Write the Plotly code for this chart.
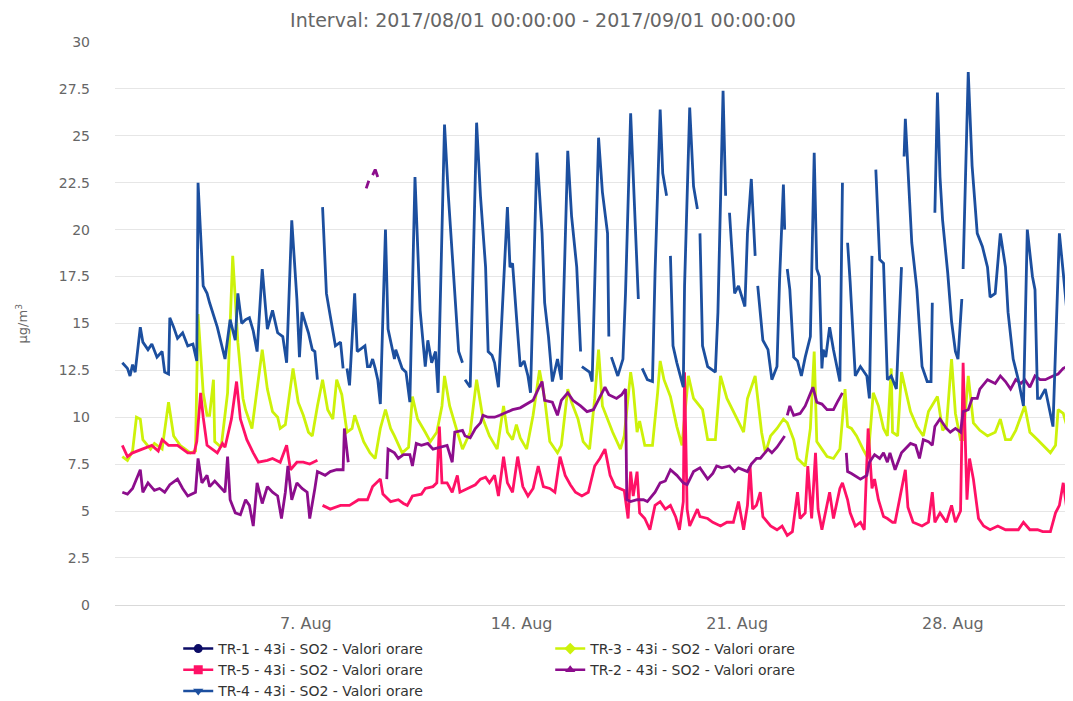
import pandas as pd
import plotly.graph_objects as go

# ==========================================
# DATI (ore dal 2017-08-01 00:00, valore µg/m³)
# ==========================================
T0 = pd.Timestamp("2017-08-01 00:00")

tr1_points = []  # nessun dato nel periodo

tr4_points = [
    (1, 12.9), (5, 12.6), (7, 12.2), (9, 12.8), (11, 12.4), (15, 14.8), (17, 14.0), (21, 13.6), (24, 13.9),
    (28, 13.2), (32, 13.5), (34, 12.4), (37, 12.3), (38, 15.3), (41, 14.8), (44, 14.2), (48, 14.5), (52, 13.8),
    (56, 13.9), (59, 13.0), (60, 22.5), (64, 17.0), (67, 16.6), (69, 16.1), (75, 14.8), (81, 13.1), (85, 15.2),
    (89, 14.1), (91, 16.6), (94, 15.0), (97, 15.2), (100, 15.3), (103, 14.6), (106, 13.5), (110, 17.9), (114, 14.7),
    (118, 15.7), (122, 14.5), (126, 14.3), (129, 12.9), (133, 20.5), (137, 16.3), (139, 13.2), (141, 15.6),
    (146, 14.5), (149, 13.6), (151, 13.5), (153, 12.0), (155, None), (157, 21.2), (160, 16.6), (163, 15.4),
    (167, 13.8), (171, 14.0), (173, 12.6), (175, None), (176, 12.6), (178, 11.7), (182, 16.6), (184, 13.5),
    (190, 13.8), (192, 12.7), (194, 12.7), (196, 13.1), (198, 12.6), (200, 12.0), (202, 10.7), (206, 20.0),
    (208, 14.7), (213, 13.1), (214, 13.6), (219, 12.6), (222, 12.4), (225, 10.8), (229, 22.8), (233, 15.7),
    (237, 12.7), (239, 14.1), (242, 12.9), (245, 13.5), (247, 11.3), (252, 25.6), (255, 21.8), (260, 16.3),
    (263, 13.5), (266, 12.9), (267, None), (268, 12.0), (272, 11.6), (277, 25.7), (280, 21.8), (284, 18.0),
    (286, 13.5), (289, 13.3), (291, 12.9), (294, 11.6), (301, 21.2), (303, 18.0), (305, 18.2), (308, 15.4),
    (311, 12.7), (314, 13.0), (317, 12.2), (319, 11.3), (324, 24.1), (328, 19.8), (329, 17.5), (330, 16.1),
    (333, 14.3), (336, 11.9), (340, 13.1), (343, 12.0), (348, 24.2), (351, 20.7), (355, 18.0), (358, 13.5),
    (358.5, None), (359, 12.7), (365, 12.4), (367, 11.9), (372, 24.9), (375, 22.0), (379, 19.8), (380, 14.3),
    (381, None), (382, 13.2), (387, 12.2), (391, 13.1), (393, 16.6), (397, 26.2), (400, 21.6), (403, 16.3),
    (404, None), (406, 12.6), (410, 12.0), (414, 11.9), (416, 17.7), (420, 26.4), (422, 23.0), (425, 21.8),
    (426, None), (428, 18.6), (430, 13.8), (433, 12.9), (435, 12.4), (438, 11.6), (439, 17.0), (443, 26.5),
    (446, 22.3), (449, 21.1), (450, None), (451, 19.8), (453, 13.8), (457, 12.7), (463, 12.4), (465, 15.6),
    (469, 27.4), (471, 21.8), (472, None), (474, 20.9), (476, 18.6), (478, 16.6), (481, 17.0), (484, 16.3),
    (486, 15.9), (488, 19.8), (491, 22.7), (494, 18.6), (495, None), (496, 17.0), (500, 14.1), (504, 13.6),
    (507, 12.0), (511, 12.7), (513, 17.3), (516, 22.4), (517, 20.0), (518, None), (519, 17.9), (521, 16.8),
    (524, 13.2), (527, 13.0), (530, 12.2), (533, 13.2), (537, 14.3), (540, 24.1), (542, 17.9), (544, 17.5),
    (546, 12.6), (547, 13.6), (549, 13.2), (552, 14.8), (555, 13.6), (560, 11.9), (562, 22.5), (564, None),
    (566, 19.3), (568, 17.2), (572, 12.2), (576, 12.7), (581, 12.2), (583, 11.0), (585, 18.6), (586, None),
    (588, 23.2), (591, 18.4), (594, 18.2), (597, 12.0), (600, 12.2), (604, 11.5), (608, 18.0), (609, None),
    (610, 23.9), (611, 25.9), (616, 19.3), (620, 16.8), (624, 12.7), (628, 11.9), (631, 11.9), (632, 16.1),
    (633, None), (634, 20.9), (636, 27.3), (638, 22.8), (640, 20.5), (644, 17.7), (647, 15.1), (650, 13.5),
    (652, 13.1), (655, 16.3), (655.5, None), (656, 17.9), (660, 28.4), (663, 23.4), (667, 19.8), (671, 19.1),
    (675, 18.0), (677, 16.4), (681, 16.6), (685, 19.8), (689, 18.0), (691, 15.6), (695, 13.1), (699, 12.0),
    (703, 10.6), (706, 20.0), (710, 17.5), (712, 16.8), (714, 11.0), (716, 11.0), (720, 11.5), (726, 9.5),
    (729, 15.9), (731, 19.8), (734, 17.7), (737, 15.5), (739, 11.1), (742, 10.6),
]

tr3_points = [
    (1, 7.9), (5, 7.7), (9, 8.2), (12, 10.0), (15, 9.9), (17, 8.8), (23, 8.3), (26, 8.6), (32, 8.3), (37, 10.8),
    (41, 9.0), (46, 8.5), (54, 8.1), (58, 8.2), (60, 15.5), (64, 11.3), (67, 10.1), (69, 10.1), (72, 12.0),
    (73, 8.7), (78, 8.4), (83, 11.3), (87, 18.6), (91, 14.0), (95, 11.0), (97, 10.4), (102, 9.4), (110, 13.6),
    (114, 11.5), (118, 10.3), (122, 10.0), (124, 9.4), (128, 9.6), (134, 12.6), (138, 10.8), (142, 10.1),
    (146, 9.2), (149, 9.0), (153, 10.6), (157, 12.0), (161, 10.4), (165, 9.9), (168, 12.0), (172, 11.2),
    (176, 9.2), (180, 9.4), (182, 10.1), (189, 8.7), (194, 8.1), (198, 7.8), (202, 9.4), (206, 10.4), (210, 9.4),
    (213, 9.0), (219, 8.1), (224, 8.4), (227, 11.1), (231, 9.9), (237, 9.2), (241, 8.7), (246, 9.2), (250, 10.6),
    (252, 12.2), (256, 10.6), (262, 9.2), (266, 8.3), (272, 9.2), (277, 12.0), (282, 9.9), (287, 9.0), (293, 8.3),
    (298, 10.6), (301, 9.2), (305, 8.8), (308, 9.6), (311, 8.9), (316, 8.3), (321, 10.1), (326, 12.5), (330, 11.0),
    (334, 8.7), (340, 8.1), (343, 8.5), (348, 11.5), (351, 10.8), (356, 9.9), (360, 8.7), (365, 8.3), (369, 11.0),
    (372, 13.6), (375, 10.6), (379, 9.9), (383, 9.2), (389, 8.3), (392, 9.0), (397, 12.4), (399, 11.5),
    (402, 9.2), (404, 9.8), (408, 8.5), (414, 8.5), (418, 11.3), (420, 13.0), (423, 12.0), (428, 11.1),
    (433, 9.5), (437, 8.5), (442, 12.2), (446, 11.0), (453, 10.4), (457, 8.8), (463, 8.8), (467, 12.2),
    (472, 11.0), (477, 10.3), (485, 9.2), (488, 11.0), (494, 12.2), (499, 9.2), (502, 8.1), (506, 9.0),
    (511, 9.4), (516, 9.9), (519, 9.7), (524, 8.8), (527, 7.8), (533, 7.4), (537, 9.4), (540, 13.5), (542, 8.7),
    (546, 8.3), (550, 7.9), (555, 7.8), (560, 8.3), (564, 11.5), (566, 9.5), (569, 9.4), (573, 9.0), (578, 8.3),
    (582, 7.8), (586, 11.3), (590, 10.6), (594, 9.4), (597, 9.0), (600, 12.6), (601, 9.2), (605, 9.0),
    (608, 12.4), (615, 10.3), (620, 9.5), (625, 9.0), (629, 10.3), (636, 11.1), (640, 9.3), (643, 9.5),
    (647, 13.1), (650, 10.2), (654, 8.8), (656, 8.8), (660, 12.2), (664, 9.7), (669, 9.3), (675, 9.0),
    (681, 9.2), (685, 9.9), (689, 8.8), (693, 8.8), (697, 9.3), (704, 10.6), (708, 9.2), (714, 8.8), (718, 8.5),
    (724, 8.1), (728, 8.5), (730, 10.4), (734, 10.2), (737, 9.5), (741, 10.6),
]

tr5_points = [
    (1, 8.5), (5, 7.9), (9, 8.1), (17, 8.3), (24, 8.5), (29, 8.2), (32, 8.8), (37, 8.5), (44, 8.5), (48, 8.3),
    (52, 8.1), (57, 8.1), (59, 8.7), (62, 11.3), (64, 10.0), (67, 8.5), (75, 8.1), (79, 8.6), (81, 8.4),
    (86, 9.9), (90, 11.9), (93, 9.9), (98, 8.8), (103, 8.1), (107, 7.6), (114, 7.7), (118, 7.8), (124, 7.6),
    (129, 8.5), (132, 7.2), (137, 7.6), (142, 7.6), (147, 7.5), (153, 7.7), (155, None), (157, 5.3), (163, 5.1),
    (171, 5.3), (178, 5.3), (185, 5.6), (192, 5.6), (196, 6.3), (202, 6.7), (204, 5.9), (210, 5.5), (216, 5.6),
    (220, 5.4), (223, 5.3), (227, 5.8), (234, 5.9), (237, 6.2), (243, 6.3), (246, 6.5), (248, 9.5), (250, 6.5),
    (254, 6.5), (258, 6.0), (262, 6.9), (264, 6.0), (270, 6.2), (276, 6.4), (280, 6.7), (284, 6.8), (287, 6.5),
    (291, 6.9), (294, 5.8), (298, 7.9), (301, 6.5), (305, 6.0), (309, 7.9), (313, 6.3), (317, 5.8), (321, 6.2),
    (325, 7.4), (329, 6.3), (334, 6.2), (338, 6.0), (342, 7.9), (346, 6.9), (350, 6.4), (354, 6.0), (359, 5.8),
    (364, 6.0), (369, 7.4), (373, 7.8), (377, 8.3), (381, 6.9), (385, 6.3), (389, 6.2), (392, 6.1), (395, 4.6),
    (397, 7.1), (399, 5.8), (402, 7.1), (404, 4.9), (408, 4.6), (412, 4.0), (416, 5.3), (420, 5.5), (424, 5.1),
    (428, 5.3), (432, 4.7), (435, 4.0), (438, 5.5), (439, 12.4), (441, 5.1), (443, 4.2), (449, 5.1), (451, 4.7),
    (457, 4.6), (461, 4.4), (467, 4.2), (472, 4.4), (477, 4.4), (481, 5.5), (485, 4.0), (488, 5.3), (490, 7.4),
    (492, 5.1), (495, 5.3), (498, 6.0), (500, 4.7), (506, 4.2), (511, 4.0), (515, 4.2), (519, 3.7), (523, 3.9),
    (527, 6.0), (529, 4.6), (533, 4.9), (535, 7.4), (538, 4.6), (541, 8.1), (543, 5.1), (546, 4.0), (548, 4.7),
    (552, 6.0), (555, 4.6), (560, 6.2), (562, 6.5), (566, 5.6), (568, 4.9), (572, 4.2), (576, 4.4), (579, 4.0),
    (582, 9.4), (585, 6.2), (587, 6.7), (590, 5.6), (594, 4.7), (597, 4.6), (601, 4.4), (603, 4.4), (607, 5.8),
    (611, 7.2), (613, 5.2), (617, 4.4), (624, 4.2), (629, 4.4), (632, 6.0), (634, 4.4), (638, 4.9), (643, 4.4),
    (647, 5.3), (650, 4.4), (654, 5.0), (656, 12.9), (659, 5.6), (661, 7.8), (664, 6.7), (668, 4.6), (672, 4.2),
    (677, 4.0), (683, 4.2), (689, 4.0), (693, 4.0), (699, 4.0), (703, 4.4), (708, 4.0), (714, 4.0), (718, 3.9),
    (724, 3.9), (728, 4.9), (731, 5.3), (734, 6.5), (737, 5.0), (741, 4.2),
]

tr2_points = [
    (1, 6.0), (5, 5.9), (9, 6.2), (15, 7.2), (17, 6.0), (21, 6.5), (26, 6.1), (30, 6.2), (34, 6.0), (38, 6.4),
    (44, 6.7), (48, 6.2), (52, 5.8), (58, 6.0), (60, 7.8), (63, 6.5), (67, 6.9), (69, 6.3), (73, 6.6), (77, 6.3),
    (81, 6.0), (83, 7.9), (85, 5.6), (89, 4.9), (93, 4.8), (97, 5.6), (100, 5.3), (103, 4.2), (106, 6.5),
    (110, 5.4), (114, 6.3), (118, 6.0), (122, 5.8), (125, 4.6), (128, 6.0), (130, 7.4), (133, 5.6), (137, 6.5),
    (141, 6.2), (145, 6.0), (147, 4.6), (151, 6.2), (153, 7.1), (159, 6.9), (163, 7.1), (168, 7.2), (173, 7.2),
    (174, 9.4), (177, 7.6), (178, None), (191, 22.2), (193, 22.6), (194, None), (196, 22.9), (198, 23.2),
    (200, 22.8), (201, None), (207, 6.7), (208, 8.3), (213, 8.1), (216, 7.8), (220, 8.0), (225, 8.0), (227, 7.4),
    (230, 8.6), (234, 8.5), (239, 8.6), (243, 8.3), (248, 8.4), (254, 8.5), (258, 7.6), (260, 9.2), (266, 9.3),
    (268, 9.0), (272, 8.9), (276, 9.4), (280, 9.7), (282, 10.1), (286, 10.0), (291, 10.0), (295, 10.1),
    (301, 10.3), (305, 10.4), (311, 10.5), (316, 10.7), (321, 10.9), (325, 11.5), (328, 11.9), (330, 10.9),
    (336, 10.8), (340, 10.1), (343, 10.9), (348, 11.3), (352, 10.9), (358, 10.6), (363, 10.3), (368, 10.4),
    (372, 10.9), (377, 11.6), (380, 11.2), (386, 11.0), (390, 11.2), (393, 11.5), (394, 5.6), (397, 5.5),
    (402, 5.6), (407, 5.6), (410, 5.5), (416, 6.0), (420, 6.5), (424, 6.6), (428, 7.2), (433, 6.9), (438, 6.5),
    (441, 6.4), (446, 7.1), (451, 7.3), (457, 6.7), (461, 7.0), (464, 7.4), (468, 7.3), (474, 7.4), (478, 7.1),
    (481, 7.3), (488, 7.1), (491, 7.5), (495, 7.8), (498, 7.8), (504, 8.3), (507, 8.1), (511, 8.4), (515, 8.8),
    (517, 9.0), (518, None), (519, 10.1), (521, 10.6), (524, 10.1), (529, 10.2), (533, 10.6), (537, 11.3),
    (539, 11.6), (542, 10.8), (546, 10.7), (550, 10.4), (555, 10.4), (558, 10.8), (562, 11.3), (563, None),
    (565, 8.1), (566, 7.1), (569, 7.0), (576, 6.7), (581, 6.9), (583, 7.6), (587, 8.0), (591, 7.8), (594, 8.1),
    (597, 7.6), (599, 8.1), (603, 7.2), (608, 8.1), (611, 8.3), (615, 8.6), (619, 8.5), (622, 7.8), (625, 8.8),
    (629, 8.7), (632, 8.5), (634, 9.5), (638, 9.9), (643, 9.4), (646, 9.2), (650, 9.4), (654, 9.2), (656, 10.3),
    (660, 10.4), (663, 11.0), (667, 11.0), (669, 11.5), (675, 12.0), (681, 11.8), (685, 12.2), (689, 11.9),
    (693, 11.5), (697, 12.0), (701, 11.8), (704, 12.0), (708, 11.6), (712, 12.2), (716, 12.0), (720, 12.0),
    (726, 12.2), (730, 12.3), (734, 12.6), (737, 12.7), (742, 12.7),
]

tick_dates = ["2017-08-07", "2017-08-14", "2017-08-21", "2017-08-28"]
tick_labels = ["7. Aug", "14. Aug", "21. Aug", "28. Aug"]
y_ticks = [0, 2.5, 5, 7.5, 10, 12.5, 15, 17.5, 20, 22.5, 25, 27.5, 30]

# nome, punti, colore, simbolo legenda (ordine della legenda Highcharts)
serie = [
    ("TR-1 - 43i - SO2 - Valori orare", tr1_points, "#0c0c66", "circle"),
    ("TR-3 - 43i - SO2 - Valori orare", tr3_points, "#cdf20a", "diamond"),
    ("TR-5 - 43i - SO2 - Valori orare", tr5_points, "#ff1166", "square"),
    ("TR-2 - 43i - SO2 - Valori orare", tr2_points, "#8c0d8c", "triangle-up"),
    ("TR-4 - 43i - SO2 - Valori orare", tr4_points, "#1c4f9f", "triangle-down"),
]

FONT = "DejaVu Sans"
# la pagina html ha un margine di 8px attorno al grafico
W, H = 1065, 693

fig = go.Figure()
for nome, punti, colore, simbolo in serie:
    xs = [T0 + pd.Timedelta(hours=h) for h, v in punti]
    ys = [v for h, v in punti]
    if punti:
        fig.add_trace(go.Scatter(x=xs, y=ys, mode="lines", name=nome, legendgroup=nome,
                                 showlegend=False, line=dict(color=colore, width=2.8),
                                 connectgaps=False))
    # voce di legenda con il simbolo
    fig.add_trace(go.Scatter(x=[None], y=[None], mode="lines+markers", name=nome, legendgroup=nome,
                             line=dict(color=colore, width=2.5),
                             marker=dict(symbol=simbolo, size=9, color=colore)))

fig.update_layout(
    width=W, height=H,
    margin=dict(l=107, r=0, t=34, b=95),
    paper_bgcolor="white", plot_bgcolor="white",
    font=dict(family=FONT, color="#666666"),
    title=dict(text="Interval: 2017/08/01 00:00:00 - 2017/09/01 00:00:00",
               x=(543 - 8) / W, xref="container", xanchor="center",
               y=1 - 12 / H, yanchor="middle",
               font=dict(family=FONT, size=19, color="#666666")),
    xaxis=dict(
        type="date",
        range=[T0 - pd.Timedelta(hours=4.7), T0 + pd.Timedelta(hours=741.6)],
        tickvals=tick_dates, ticktext=tick_labels,
        showgrid=False, zeroline=False,
        showline=True, linecolor="#d9d9d9", linewidth=1,
        ticks="outside", ticklen=4, tickcolor="rgba(0,0,0,0)",
        tickfont=dict(family=FONT, size=16, color="#666666"),
    ),
    yaxis=dict(
        range=[0, 30], tickvals=y_ticks, ticktext=[f"{t:g}" for t in y_ticks],
        showgrid=True, gridcolor="#e6e6e6", gridwidth=1, zeroline=False,
        ticks="", ticklabelstandoff=24,
        tickfont=dict(family=FONT, size=14, color="#666666"),
    ),
    legend=dict(
        orientation="h", xref="paper", x=0.066, xanchor="left",
        yref="container", y=1 - 625 / H, yanchor="top",
        entrywidth=327, entrywidthmode="pixels",
        font=dict(family=FONT, size=14, color="#333333"),
        tracegroupgap=0, itemwidth=30,
    ),
    showlegend=True,
)

fig.add_annotation(text="μg/m<sup>3</sup>", textangle=-90, xref="paper", yref="paper",
                   x=(22 - 115) / 958, y=0.5, xanchor="center", yanchor="middle",
                   showarrow=False, font=dict(family=FONT, size=13, color="#666666"))

fig.write_html("out.html")
